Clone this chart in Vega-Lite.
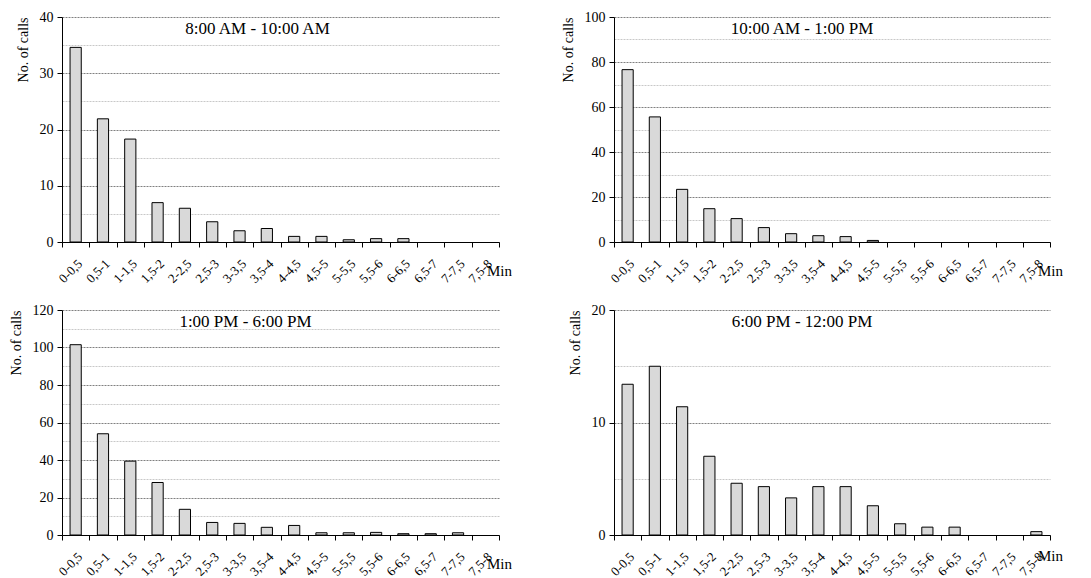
{
  "$schema": "https://vega.github.io/schema/vega-lite/v6.json",
  "padding": {"left": 9, "top": 10, "right": 5, "bottom": 0},
  "background": "white",
  "config": {
    "view": {"stroke": null},
    "font": "Liberation Serif",
    "axis": {"labelFont": "Liberation Serif", "titleFont": "Liberation Serif", "labelColor": "#000", "titleColor": "#000", "domainColor": "#000", "tickColor": "#000", "titleFontWeight": "normal"},
    "axisX": {"labelAngle": -45, "labelFontSize": 13, "tickBand": "extent", "tickSize": 5, "grid": false, "labelPadding": 10, "titleAngle": 0, "titleAlign": "center", "titleBaseline": "middle", "titleFontSize": 15, "titleY": 28},
    "axisY": {"labelFontSize": 14, "tickSize": 5, "labelPadding": 4, "titleFontSize": 14, "titleAnchor": "end", "titlePadding": 9, "gridDash": [2, 1], "gridWidth": 1},
    "title": {"font": "Liberation Serif", "fontSize": 17, "fontWeight": "normal", "color": "#000", "frame": "group", "anchor": "middle", "baseline": "middle", "offset": -28}
  },
  "data": {"values": [
    {"panel": "p1", "bin": "0-0,5", "calls": 34.6}, {"panel": "p1", "bin": "0,5-1", "calls": 21.9}, {"panel": "p1", "bin": "1-1,5", "calls": 18.3}, {"panel": "p1", "bin": "1,5-2", "calls": 7.0},
    {"panel": "p1", "bin": "2-2,5", "calls": 6.0}, {"panel": "p1", "bin": "2,5-3", "calls": 3.6}, {"panel": "p1", "bin": "3-3,5", "calls": 2.0}, {"panel": "p1", "bin": "3,5-4", "calls": 2.4},
    {"panel": "p1", "bin": "4-4,5", "calls": 1.0}, {"panel": "p1", "bin": "4,5-5", "calls": 1.0}, {"panel": "p1", "bin": "5-5,5", "calls": 0.4}, {"panel": "p1", "bin": "5,5-6", "calls": 0.6},
    {"panel": "p1", "bin": "6-6,5", "calls": 0.6}, {"panel": "p1", "bin": "6,5-7", "calls": 0}, {"panel": "p1", "bin": "7-7,5", "calls": 0}, {"panel": "p1", "bin": "7,5-8", "calls": 0},
    {"panel": "p2", "bin": "0-0,5", "calls": 76.6}, {"panel": "p2", "bin": "0,5-1", "calls": 55.6}, {"panel": "p2", "bin": "1-1,5", "calls": 23.4}, {"panel": "p2", "bin": "1,5-2", "calls": 14.8},
    {"panel": "p2", "bin": "2-2,5", "calls": 10.4}, {"panel": "p2", "bin": "2,5-3", "calls": 6.4}, {"panel": "p2", "bin": "3-3,5", "calls": 3.7}, {"panel": "p2", "bin": "3,5-4", "calls": 2.8},
    {"panel": "p2", "bin": "4-4,5", "calls": 2.4}, {"panel": "p2", "bin": "4,5-5", "calls": 0.7}, {"panel": "p2", "bin": "5-5,5", "calls": 0}, {"panel": "p2", "bin": "5,5-6", "calls": 0},
    {"panel": "p2", "bin": "6-6,5", "calls": 0}, {"panel": "p2", "bin": "6,5-7", "calls": 0}, {"panel": "p2", "bin": "7-7,5", "calls": 0}, {"panel": "p2", "bin": "7,5-8", "calls": 0},
    {"panel": "p3", "bin": "0-0,5", "calls": 101.5}, {"panel": "p3", "bin": "0,5-1", "calls": 54.0}, {"panel": "p3", "bin": "1-1,5", "calls": 39.4}, {"panel": "p3", "bin": "1,5-2", "calls": 28.0},
    {"panel": "p3", "bin": "2-2,5", "calls": 13.7}, {"panel": "p3", "bin": "2,5-3", "calls": 6.7}, {"panel": "p3", "bin": "3-3,5", "calls": 6.2}, {"panel": "p3", "bin": "3,5-4", "calls": 4.1},
    {"panel": "p3", "bin": "4-4,5", "calls": 5.1}, {"panel": "p3", "bin": "4,5-5", "calls": 1.2}, {"panel": "p3", "bin": "5-5,5", "calls": 1.2}, {"panel": "p3", "bin": "5,5-6", "calls": 1.4},
    {"panel": "p3", "bin": "6-6,5", "calls": 0.7}, {"panel": "p3", "bin": "6,5-7", "calls": 0.7}, {"panel": "p3", "bin": "7-7,5", "calls": 1.2}, {"panel": "p3", "bin": "7,5-8", "calls": 0},
    {"panel": "p4", "bin": "0-0,5", "calls": 13.4}, {"panel": "p4", "bin": "0,5-1", "calls": 15.0}, {"panel": "p4", "bin": "1-1,5", "calls": 11.4}, {"panel": "p4", "bin": "1,5-2", "calls": 7.0},
    {"panel": "p4", "bin": "2-2,5", "calls": 4.6}, {"panel": "p4", "bin": "2,5-3", "calls": 4.3}, {"panel": "p4", "bin": "3-3,5", "calls": 3.3}, {"panel": "p4", "bin": "3,5-4", "calls": 4.3},
    {"panel": "p4", "bin": "4-4,5", "calls": 4.3}, {"panel": "p4", "bin": "4,5-5", "calls": 2.6}, {"panel": "p4", "bin": "5-5,5", "calls": 1.0}, {"panel": "p4", "bin": "5,5-6", "calls": 0.7},
    {"panel": "p4", "bin": "6-6,5", "calls": 0.7}, {"panel": "p4", "bin": "6,5-7", "calls": 0}, {"panel": "p4", "bin": "7-7,5", "calls": 0}, {"panel": "p4", "bin": "7,5-8", "calls": 0.3}
  ]},
  "columns": 2,
  "spacing": {"row": 17, "column": 49},
  "concat": [
      {
        "width": 437, "height": 225,
        "title": {"text": "8:00 AM - 10:00 AM", "dx": -23},
        "transform": [{"filter": "datum.panel === 'p1'"}],
        "mark": {"type": "bar", "width": {"band": 0.41}, "fill": "#d9d9d9", "stroke": "#000", "strokeWidth": 1},
        "encoding": {
          "x": {"field": "bin", "type": "nominal", "sort": null, "scale": {"paddingInner": 0, "paddingOuter": 0}, "axis": {"title": "Min", "titleX": 437}},
          "y": {"field": "calls", "type": "quantitative", "scale": {"domain": [0, 40], "nice": false},
                "axis": {"title": "No. of calls", "values": [0, 5, 10, 15, 20, 25, 30, 35, 40],
                         "labelExpr": "datum.value % 10 === 0 ? datum.label : ''",
                         "gridColor": {"condition": {"test": "datum.value % 10 === 0", "value": "#808080"}, "value": "#c8c8c8"},
                         "tickOpacity": {"condition": {"test": "datum.value % 10 === 0", "value": 1}, "value": 0}}},
          "strokeOpacity": {"condition": {"test": "datum.calls === 0", "value": 0}, "value": 1}
        }
      },
      {
        "width": 436, "height": 225,
        "title": {"text": "10:00 AM - 1:00 PM", "dx": -30},
        "transform": [{"filter": "datum.panel === 'p2'"}],
        "mark": {"type": "bar", "width": {"band": 0.41}, "fill": "#d9d9d9", "stroke": "#000", "strokeWidth": 1},
        "encoding": {
          "x": {"field": "bin", "type": "nominal", "sort": null, "scale": {"paddingInner": 0, "paddingOuter": 0}, "axis": {"title": "Min", "titleX": 436}},
          "y": {"field": "calls", "type": "quantitative", "scale": {"domain": [0, 100], "nice": false},
                "axis": {"title": "No. of calls", "values": [0, 10, 20, 30, 40, 50, 60, 70, 80, 90, 100],
                         "labelExpr": "datum.value % 20 === 0 ? datum.label : ''",
                         "gridColor": {"condition": {"test": "datum.value % 20 === 0", "value": "#808080"}, "value": "#c8c8c8"},
                         "tickOpacity": {"condition": {"test": "datum.value % 20 === 0", "value": 1}, "value": 0}}},
          "strokeOpacity": {"condition": {"test": "datum.calls === 0", "value": 0}, "value": 1}
        }
      },
      {
        "width": 437, "height": 225,
        "title": {"text": "1:00 PM - 6:00 PM", "dx": -35},
        "transform": [{"filter": "datum.panel === 'p3'"}],
        "mark": {"type": "bar", "width": {"band": 0.41}, "fill": "#d9d9d9", "stroke": "#000", "strokeWidth": 1},
        "encoding": {
          "x": {"field": "bin", "type": "nominal", "sort": null, "scale": {"paddingInner": 0, "paddingOuter": 0}, "axis": {"title": "Min", "titleX": 437}},
          "y": {"field": "calls", "type": "quantitative", "scale": {"domain": [0, 120], "nice": false},
                "axis": {"title": "No. of calls", "values": [0, 10, 20, 30, 40, 50, 60, 70, 80, 90, 100, 110, 120],
                         "labelExpr": "datum.value % 20 === 0 ? datum.label : ''",
                         "gridColor": {"condition": {"test": "datum.value % 20 === 0", "value": "#808080"}, "value": "#c8c8c8"},
                         "tickOpacity": {"condition": {"test": "datum.value % 20 === 0", "value": 1}, "value": 0}}},
          "strokeOpacity": {"condition": {"test": "datum.calls === 0", "value": 0}, "value": 1}
        }
      },
      {
        "width": 436, "height": 225,
        "title": {"text": "6:00 PM - 12:00 PM", "dx": -30},
        "transform": [{"filter": "datum.panel === 'p4'"}],
        "mark": {"type": "bar", "width": {"band": 0.41}, "fill": "#d9d9d9", "stroke": "#000", "strokeWidth": 1},
        "encoding": {
          "x": {"field": "bin", "type": "nominal", "sort": null, "scale": {"paddingInner": 0, "paddingOuter": 0}, "axis": {"title": "Min", "titleX": 436, "titleY": 20}},
          "y": {"field": "calls", "type": "quantitative", "scale": {"domain": [0, 20], "nice": false},
                "axis": {"title": "No. of calls", "values": [0, 5, 10, 15, 20],
                         "labelExpr": "datum.value % 10 === 0 ? datum.label : ''",
                         "gridColor": {"condition": {"test": "datum.value % 10 === 0", "value": "#808080"}, "value": "#c8c8c8"},
                         "tickOpacity": {"condition": {"test": "datum.value % 10 === 0", "value": 1}, "value": 0}}},
          "strokeOpacity": {"condition": {"test": "datum.calls === 0", "value": 0}, "value": 1}
        }
      }
  ]
}
